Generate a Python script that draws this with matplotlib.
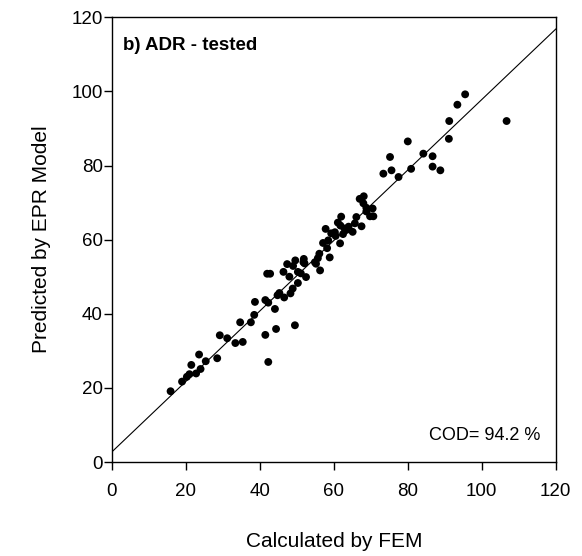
import numpy as np
import matplotlib
matplotlib.use("Agg")
from matplotlib import pyplot as plt

plt.rcParams['font.family'] = ['Liberation Sans', 'DejaVu Sans']

# ---- data ----
fem = [15.9, 19.0, 20.3, 21.0, 21.5, 22.8, 23.6, 24.0, 25.4, 28.5,
       29.2, 31.2, 33.4, 35.4, 34.7, 37.6, 38.5, 38.7, 41.5, 42.3,
       44.4, 49.5, 41.5, 42.3, 44.1, 44.8, 45.3, 46.6, 48.3, 48.9,
       50.3, 42.0, 42.8, 46.4, 47.4, 48.0, 49.0, 49.6, 50.3, 51.1,
       52.5, 51.9, 51.8, 54.9, 56.3, 55.7, 56.1, 58.9, 57.1, 58.2,
       58.5, 61.7, 57.8, 59.3, 60.5, 62.0, 61.1, 61.8, 62.9, 64.0,
       65.1, 63.4, 66.1, 67.5, 65.7, 67.0, 68.1, 68.0, 68.8, 70.5,
       69.8, 70.7, 68.8, 73.4, 75.2, 75.6, 77.5, 80.0, 80.9, 84.2,
       86.7, 86.7, 88.8, 91.1, 91.2, 93.4, 95.5, 106.7, 60.3, 62.5,
       55.2, 52.1]
epr = [19.1, 21.7, 23.0, 23.7, 26.2, 23.9, 29.0, 25.1, 27.2, 28.0,
       34.2, 33.4, 32.1, 32.4, 37.7, 37.7, 39.7, 43.2, 34.3, 27.0,
       35.9, 36.9, 43.7, 43.0, 41.3, 45.0, 45.6, 44.4, 45.5, 46.8,
       48.3, 50.8, 50.8, 51.3, 53.4, 50.0, 52.9, 54.4, 51.3, 50.9,
       49.9, 54.8, 53.9, 53.9, 51.7, 55.0, 56.2, 55.2, 59.1, 57.7,
       59.8, 59.0, 62.9, 61.7, 61.0, 66.2, 64.6, 63.8, 63.0, 63.5,
       62.1, 62.6, 66.1, 63.6, 64.4, 71.0, 71.7, 69.8, 68.6, 68.4,
       66.3, 66.3, 67.6, 77.8, 82.3, 78.7, 76.9, 86.5, 79.1, 83.2,
       82.5, 79.7, 78.7, 87.2, 92.0, 96.4, 99.2, 92.0, 62.0, 61.5,
       53.5, 53.6]

# fitted line (intercept, slope) as drawn in the reference
fit_intercept = 2.7
fit_slope = 0.951

ticks = [0, 20, 40, 60, 80, 100, 120]
cod_text = "COD= 94.2 %"
panel_title = "b) ADR - tested"

fig = plt.figure(figsize=(5.82, 5.56), dpi=100)
ax = fig.add_axes([0.192, 0.169, 0.763, 0.8])

xs = np.array([0, 120])
ax.plot(xs, fit_intercept + fit_slope * xs, color='black', lw=0.8, zorder=2)
ax.scatter(fem, epr, s=32, color='black', edgecolors='none', zorder=3)

ax.set_xlim(0, 120)
ax.set_ylim(0, 120)
ax.set_xticks(ticks)
ax.set_yticks(ticks)
ax.tick_params(direction='out', length=6, width=1, labelsize=13.5)
ax.tick_params(axis='x', pad=9)
ax.tick_params(axis='y', pad=0.5)
for sp in ax.spines.values():
    sp.set_linewidth(1)

ax.set_xlabel('Calculated by FEM', fontsize=15, labelpad=23)
ax.set_ylabel('Predicted by EPR Model', fontsize=15, labelpad=15)

ax.text(0.025, 0.937, panel_title, transform=ax.transAxes, fontsize=13.5,
        fontweight='bold', va='center', ha='left')
ax.text(0.965, 0.06, cod_text, transform=ax.transAxes, fontsize=13,
        va='center', ha='right')

fig.savefig('out.png', dpi=100)
